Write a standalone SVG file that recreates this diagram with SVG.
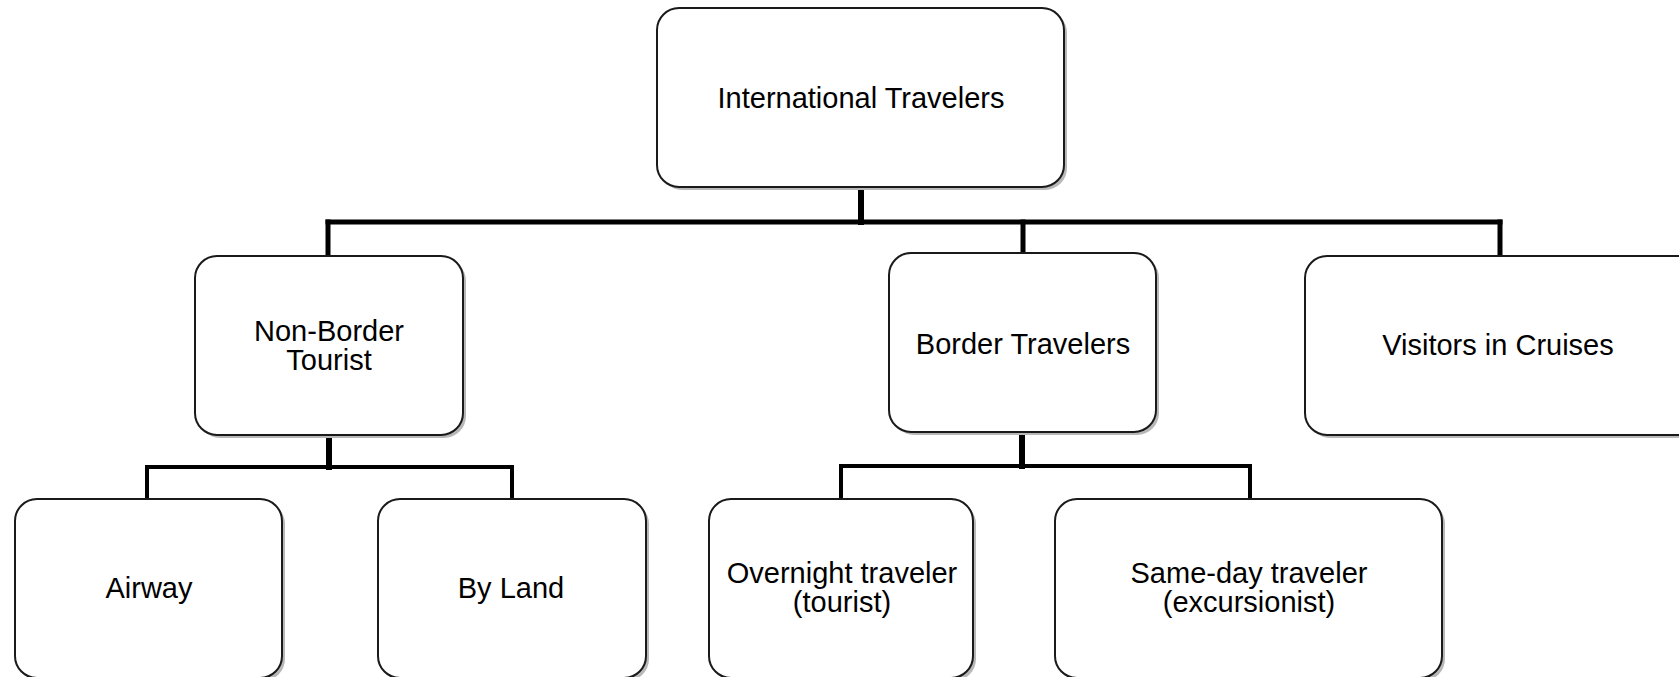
<svg xmlns="http://www.w3.org/2000/svg" width="1679" height="677" viewBox="0 0 1679 677">
<style>
.shadow{fill:#b8b8b8;}
.box{fill:#ffffff;stroke:#1a1a1a;stroke-width:2;}
.lbl{font-family:"Liberation Sans",Arial,sans-serif;font-size:29px;fill:#000;text-anchor:middle;}
.conn{stroke:#000;fill:none;stroke-linecap:square;}
</style>
<rect width="1679" height="677" fill="#ffffff"/>
<g id="connectors">
<line class="conn" x1="861" y1="187" x2="861" y2="222" stroke-width="6"/>
<line class="conn" x1="328" y1="222" x2="1500" y2="222" stroke-width="5"/>
<line class="conn" x1="328" y1="222" x2="328" y2="256" stroke-width="5"/>
<line class="conn" x1="1023" y1="222" x2="1023" y2="253" stroke-width="5"/>
<line class="conn" x1="1500" y1="222" x2="1500" y2="256" stroke-width="5"/>
<line class="conn" x1="329" y1="435" x2="329" y2="467" stroke-width="6"/>
<line class="conn" x1="147" y1="467" x2="512" y2="467" stroke-width="4"/>
<line class="conn" x1="147" y1="467" x2="147" y2="499" stroke-width="4"/>
<line class="conn" x1="512" y1="467" x2="512" y2="499" stroke-width="4"/>
<line class="conn" x1="1022" y1="432" x2="1022" y2="466" stroke-width="6"/>
<line class="conn" x1="841" y1="466" x2="1250" y2="466" stroke-width="4"/>
<line class="conn" x1="841" y1="466" x2="841" y2="499" stroke-width="4"/>
<line class="conn" x1="1250" y1="466" x2="1250" y2="499" stroke-width="4"/>
</g>
<g id="node-international">
<rect class="shadow" x="660" y="11" width="407" height="179" rx="22"/>
<rect class="box" x="657" y="8" width="407" height="179" rx="22"/>
<text class="lbl" x="861" y="108">International Travelers</text>
</g>
<g id="node-nonborder">
<rect class="shadow" x="198" y="259" width="268" height="179" rx="22"/>
<rect class="box" x="195" y="256" width="268" height="179" rx="22"/>
<text class="lbl" x="329" y="341">Non-Border</text>
<text class="lbl" x="329" y="370">Tourist</text>
</g>
<g id="node-border">
<rect class="shadow" x="892" y="256" width="267" height="179" rx="22"/>
<rect class="box" x="889" y="253" width="267" height="179" rx="22"/>
<text class="lbl" x="1023" y="354">Border Travelers</text>
</g>
<g id="node-cruises">
<rect class="shadow" x="1308" y="259" width="400" height="179" rx="22"/>
<rect class="box" x="1305" y="256" width="400" height="179" rx="22"/>
<text class="lbl" x="1498" y="355">Visitors in Cruises</text>
</g>
<g id="node-airway">
<rect class="shadow" x="18" y="502" width="267" height="179" rx="22"/>
<rect class="box" x="15" y="499" width="267" height="179" rx="22"/>
<text class="lbl" x="149" y="598">Airway</text>
</g>
<g id="node-byland">
<rect class="shadow" x="381" y="502" width="268" height="179" rx="22"/>
<rect class="box" x="378" y="499" width="268" height="179" rx="22"/>
<text class="lbl" x="511" y="598">By Land</text>
</g>
<g id="node-overnight">
<rect class="shadow" x="712" y="502" width="264" height="179" rx="22"/>
<rect class="box" x="709" y="499" width="264" height="179" rx="22"/>
<text class="lbl" x="842" y="583">Overnight traveler</text>
<text class="lbl" x="842" y="612">(tourist)</text>
</g>
<g id="node-sameday">
<rect class="shadow" x="1058" y="502" width="387" height="179" rx="22"/>
<rect class="box" x="1055" y="499" width="387" height="179" rx="22"/>
<text class="lbl" x="1249" y="583">Same-day traveler</text>
<text class="lbl" x="1249" y="612">(excursionist)</text>
</g>
</svg>
